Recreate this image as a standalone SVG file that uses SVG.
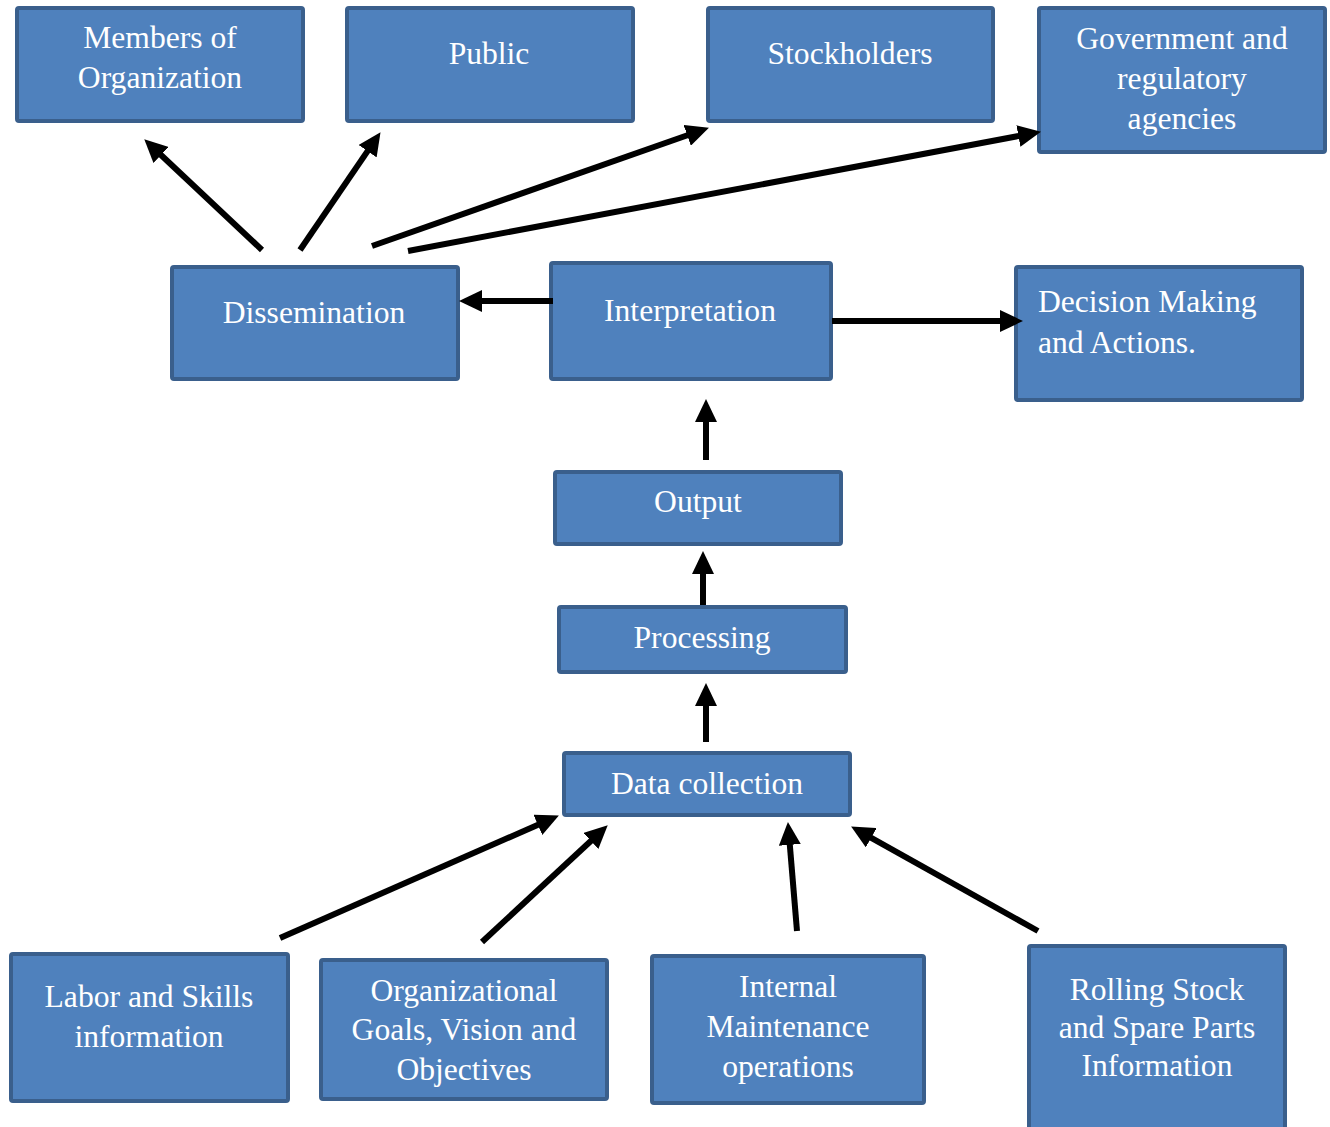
<svg xmlns="http://www.w3.org/2000/svg" width="1330" height="1127" viewBox="0 0 1330 1127" font-family="'Liberation Serif', 'Times New Roman', Times, serif">
  <style>
    .box { fill: #4F81BD; stroke: #3A5F8C; stroke-width: 4; }
    .lbl { fill: #FFFFFF; font-size: 31.6px; text-anchor: middle; }
    .lbl.left { text-anchor: start; }
    .arrow { stroke: #000000; stroke-width: 6; fill: none; marker-end: url(#head); }
  </style>
  <defs>
    <marker id="head" markerUnits="userSpaceOnUse" markerWidth="23" markerHeight="22" refX="4" refY="11" orient="auto">
      <path d="M0,0 L23,11 L0,22 z" fill="#000000"/>
    </marker>
  </defs>
  <rect width="1330" height="1127" fill="#FFFFFF"/>

  <!-- audiences -->
  <g id="members">
    <rect class="box" x="17" y="8" width="286" height="113" rx="2"/>
    <text class="lbl" x="160" y="48">Members of</text>
    <text class="lbl" x="160" y="88">Organization</text>
  </g>
  <g id="public">
    <rect class="box" x="347" y="8" width="286" height="113" rx="2"/>
    <text class="lbl" x="489" y="64">Public</text>
  </g>
  <g id="stockholders">
    <rect class="box" x="708" y="8" width="285" height="113" rx="2"/>
    <text class="lbl" x="850" y="64">Stockholders</text>
  </g>
  <g id="government">
    <rect class="box" x="1039" y="8" width="286" height="144" rx="2"/>
    <text class="lbl" x="1182" y="49">Government and</text>
    <text class="lbl" x="1182" y="89">regulatory</text>
    <text class="lbl" x="1182" y="129">agencies</text>
  </g>

  <!-- middle row -->
  <g id="dissemination">
    <rect class="box" x="172" y="267" width="286" height="112" rx="2"/>
    <text class="lbl" x="314" y="323">Dissemination</text>
  </g>
  <g id="interpretation">
    <rect class="box" x="551" y="263" width="280" height="116" rx="2"/>
    <text class="lbl" x="690" y="321">Interpretation</text>
  </g>
  <g id="decision">
    <rect class="box" x="1016" y="267" width="286" height="133" rx="2"/>
    <text class="lbl left" x="1038" y="312">Decision Making</text>
    <text class="lbl left" x="1038" y="353">and Actions.</text>
  </g>

  <!-- pipeline -->
  <g id="output">
    <rect class="box" x="555" y="472" width="286" height="72" rx="2"/>
    <text class="lbl" x="698" y="512">Output</text>
  </g>
  <g id="processing">
    <rect class="box" x="559" y="607" width="287" height="65" rx="2"/>
    <text class="lbl" x="702" y="648">Processing</text>
  </g>
  <g id="data-collection">
    <rect class="box" x="564" y="753" width="286" height="62" rx="2"/>
    <text class="lbl" x="707" y="794">Data collection</text>
  </g>

  <!-- sources -->
  <g id="labor">
    <rect class="box" x="11" y="954" width="277" height="147" rx="2"/>
    <text class="lbl" x="149" y="1007">Labor and Skills</text>
    <text class="lbl" x="149" y="1047">information</text>
  </g>
  <g id="goals">
    <rect class="box" x="321" y="960" width="286" height="139" rx="2"/>
    <text class="lbl" x="464" y="1001">Organizational</text>
    <text class="lbl" x="464" y="1040">Goals, Vision and</text>
    <text class="lbl" x="464" y="1080">Objectives</text>
  </g>
  <g id="maintenance">
    <rect class="box" x="652" y="956" width="272" height="147" rx="2"/>
    <text class="lbl" x="788" y="997">Internal</text>
    <text class="lbl" x="788" y="1037">Maintenance</text>
    <text class="lbl" x="788" y="1077">operations</text>
  </g>
  <g id="rolling-stock">
    <rect class="box" x="1029" y="946" width="256" height="185" rx="2"/>
    <text class="lbl" x="1157" y="1000">Rolling Stock</text>
    <text class="lbl" x="1157" y="1038">and Spare Parts</text>
    <text class="lbl" x="1157" y="1076">Information</text>
  </g>

  <!-- connectors -->
  <g id="connectors">
    <line class="arrow" x1="262" y1="250" x2="158.1" y2="152.3"/>
    <line class="arrow" x1="300" y1="250" x2="369.8" y2="147.9"/>
    <line class="arrow" x1="372" y1="246" x2="691" y2="134"/>
    <line class="arrow" x1="408" y1="251" x2="1022.3" y2="135.3"/>
    <line class="arrow" x1="553" y1="301" x2="478" y2="301"/>
    <line class="arrow" x1="832" y1="321" x2="1004" y2="321"/>
    <line class="arrow" x1="706" y1="460" x2="706" y2="418"/>
    <line class="arrow" x1="703" y1="605" x2="703" y2="570"/>
    <line class="arrow" x1="706" y1="742" x2="706" y2="702"/>
    <line class="arrow" x1="280" y1="938" x2="541.5" y2="823.2"/>
    <line class="arrow" x1="482" y1="942" x2="593.8" y2="838.2"/>
    <line class="arrow" x1="797" y1="931" x2="789.5" y2="840.9"/>
    <line class="arrow" x1="1038" y1="931" x2="867.7" y2="835.8"/>
  </g>
</svg>
